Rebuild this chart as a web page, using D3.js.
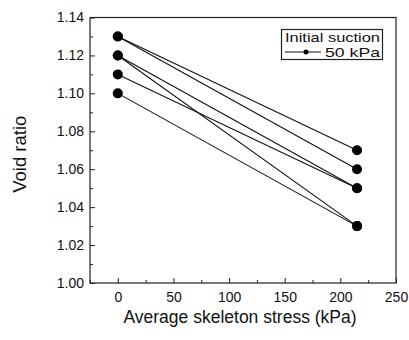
<!DOCTYPE html>
<html>
<head>
<meta charset="utf-8">
<script src="https://cdn.jsdelivr.net/npm/d3@7"></script>
<style>
  html, body { margin: 0; padding: 0; background: #fff; }
  svg { display: block; }
  text { font-family: "Liberation Sans", Arial, sans-serif; fill: #111; }
</style>
</head>
<body>
<svg id="chart" width="409" height="340"></svg>
<script>
// Void ratio before and after loading, one entry per specimen
const stressStages = [0, 215];                       // average skeleton stress, kPa
const voidRatioStart = [1.13, 1.13, 1.12, 1.12, 1.11, 1.10];
const voidRatioEnd   = [1.07, 1.06, 1.05, 1.03, 1.05, 1.03];

const xTicks = [0, 50, 100, 150, 200, 250];
const yTicks = [1.00, 1.02, 1.04, 1.06, 1.08, 1.10, 1.12, 1.14];
const xMinorTicks = [-25, 25, 75, 125, 175, 225];
const yMinorTicks = [1.01, 1.03, 1.05, 1.07, 1.09, 1.11, 1.13];

const legendTitle = "Initial suction";
const legendLabel = "50 kPa";

const svg = d3.select("#chart");
const plot = { left: 90, right: 396, top: 17.5, bottom: 283 };

const x = d3.scaleLinear().domain([-25, 250]).range([plot.left, plot.right]);
const y = d3.scaleLinear().domain([1.00, 1.14]).range([plot.bottom, plot.top]);

// Frame
svg.append("rect")
  .attr("x", plot.left).attr("y", plot.top)
  .attr("width", plot.right - plot.left).attr("height", plot.bottom - plot.top)
  .attr("fill", "none").attr("stroke", "#222").attr("stroke-width", 1.2);

// Axes with inward ticks
const xAxis = d3.axisBottom(x).tickValues(xTicks).tickSize(-5).tickPadding(9)
  .tickFormat(d3.format("d"));
const gx = svg.append("g").attr("transform", `translate(0,${plot.bottom})`).call(xAxis);
gx.select(".domain").remove();
gx.selectAll("line").attr("stroke", "#222");
gx.selectAll("text").attr("font-size", 14).attr("fill", "#111")
  .attr("font-family", "'Liberation Sans', Arial, sans-serif");

const xMinor = d3.axisBottom(x).tickValues(xMinorTicks).tickSize(-3).tickFormat("");
const gxm = svg.append("g").attr("transform", `translate(0,${plot.bottom})`).call(xMinor);
gxm.select(".domain").remove();
gxm.selectAll("line").attr("stroke", "#222");

const yAxis = d3.axisLeft(y).tickValues(yTicks).tickSize(-5).tickPadding(6)
  .tickFormat(d3.format(".2f"));
const gy = svg.append("g").attr("transform", `translate(${plot.left},0)`).call(yAxis);
gy.select(".domain").remove();
gy.selectAll("line").attr("stroke", "#222");
gy.selectAll("text").attr("font-size", 14).attr("fill", "#111")
  .attr("font-family", "'Liberation Sans', Arial, sans-serif");

const yMinor = d3.axisLeft(y).tickValues(yMinorTicks).tickSize(-3).tickFormat("");
const gym = svg.append("g").attr("transform", `translate(${plot.left},0)`).call(yMinor);
gym.select(".domain").remove();
gym.selectAll("line").attr("stroke", "#222");

// Axis titles
svg.append("text")
  .attr("x", (plot.left + plot.right) / 2 - 3).attr("y", 323)
  .attr("text-anchor", "middle").attr("font-size", 17.5)
  .text("Average skeleton stress (kPa)");

svg.append("text")
  .attr("transform", `translate(26,${(plot.top + plot.bottom) / 2 + 4}) rotate(-90)`)
  .attr("text-anchor", "middle").attr("font-size", 18.5)
  .text("Void ratio");

// Loading paths
const specimens = voidRatioStart.map((v, i) => [
  { s: stressStages[0], e: v },
  { s: stressStages[1], e: voidRatioEnd[i] }
]);

const line = d3.line().x(d => x(d.s)).y(d => y(d.e));
svg.append("g").selectAll("path").data(specimens).join("path")
  .attr("d", line)
  .attr("fill", "none").attr("stroke", "#111").attr("stroke-width", 1.1);

const points = specimens.flat();
svg.append("g").selectAll("circle").data(points).join("circle")
  .attr("cx", d => x(d.s)).attr("cy", d => y(d.e)).attr("r", 5)
  .attr("fill", "#000");

// Legend
const lg = svg.append("g");
lg.append("rect").attr("x", 281.5).attr("y", 29.5).attr("width", 101).attr("height", 30)
  .attr("fill", "#fff").attr("stroke", "#222").attr("stroke-width", 1.2);
lg.append("text").attr("x", 285).attr("y", 42).attr("font-size", 13)
  .attr("textLength", 95).attr("lengthAdjust", "spacingAndGlyphs").text(legendTitle);
lg.append("line").attr("x1", 285).attr("x2", 321).attr("y1", 52).attr("y2", 52)
  .attr("stroke", "#111").attr("stroke-width", 1.1);
lg.append("circle").attr("cx", 306).attr("cy", 52).attr("r", 2.5).attr("fill", "#000");
lg.append("text").attr("x", 325).attr("y", 57).attr("font-size", 13)
  .attr("textLength", 55).attr("lengthAdjust", "spacingAndGlyphs").text(legendLabel);
</script>
</body>
</html>
